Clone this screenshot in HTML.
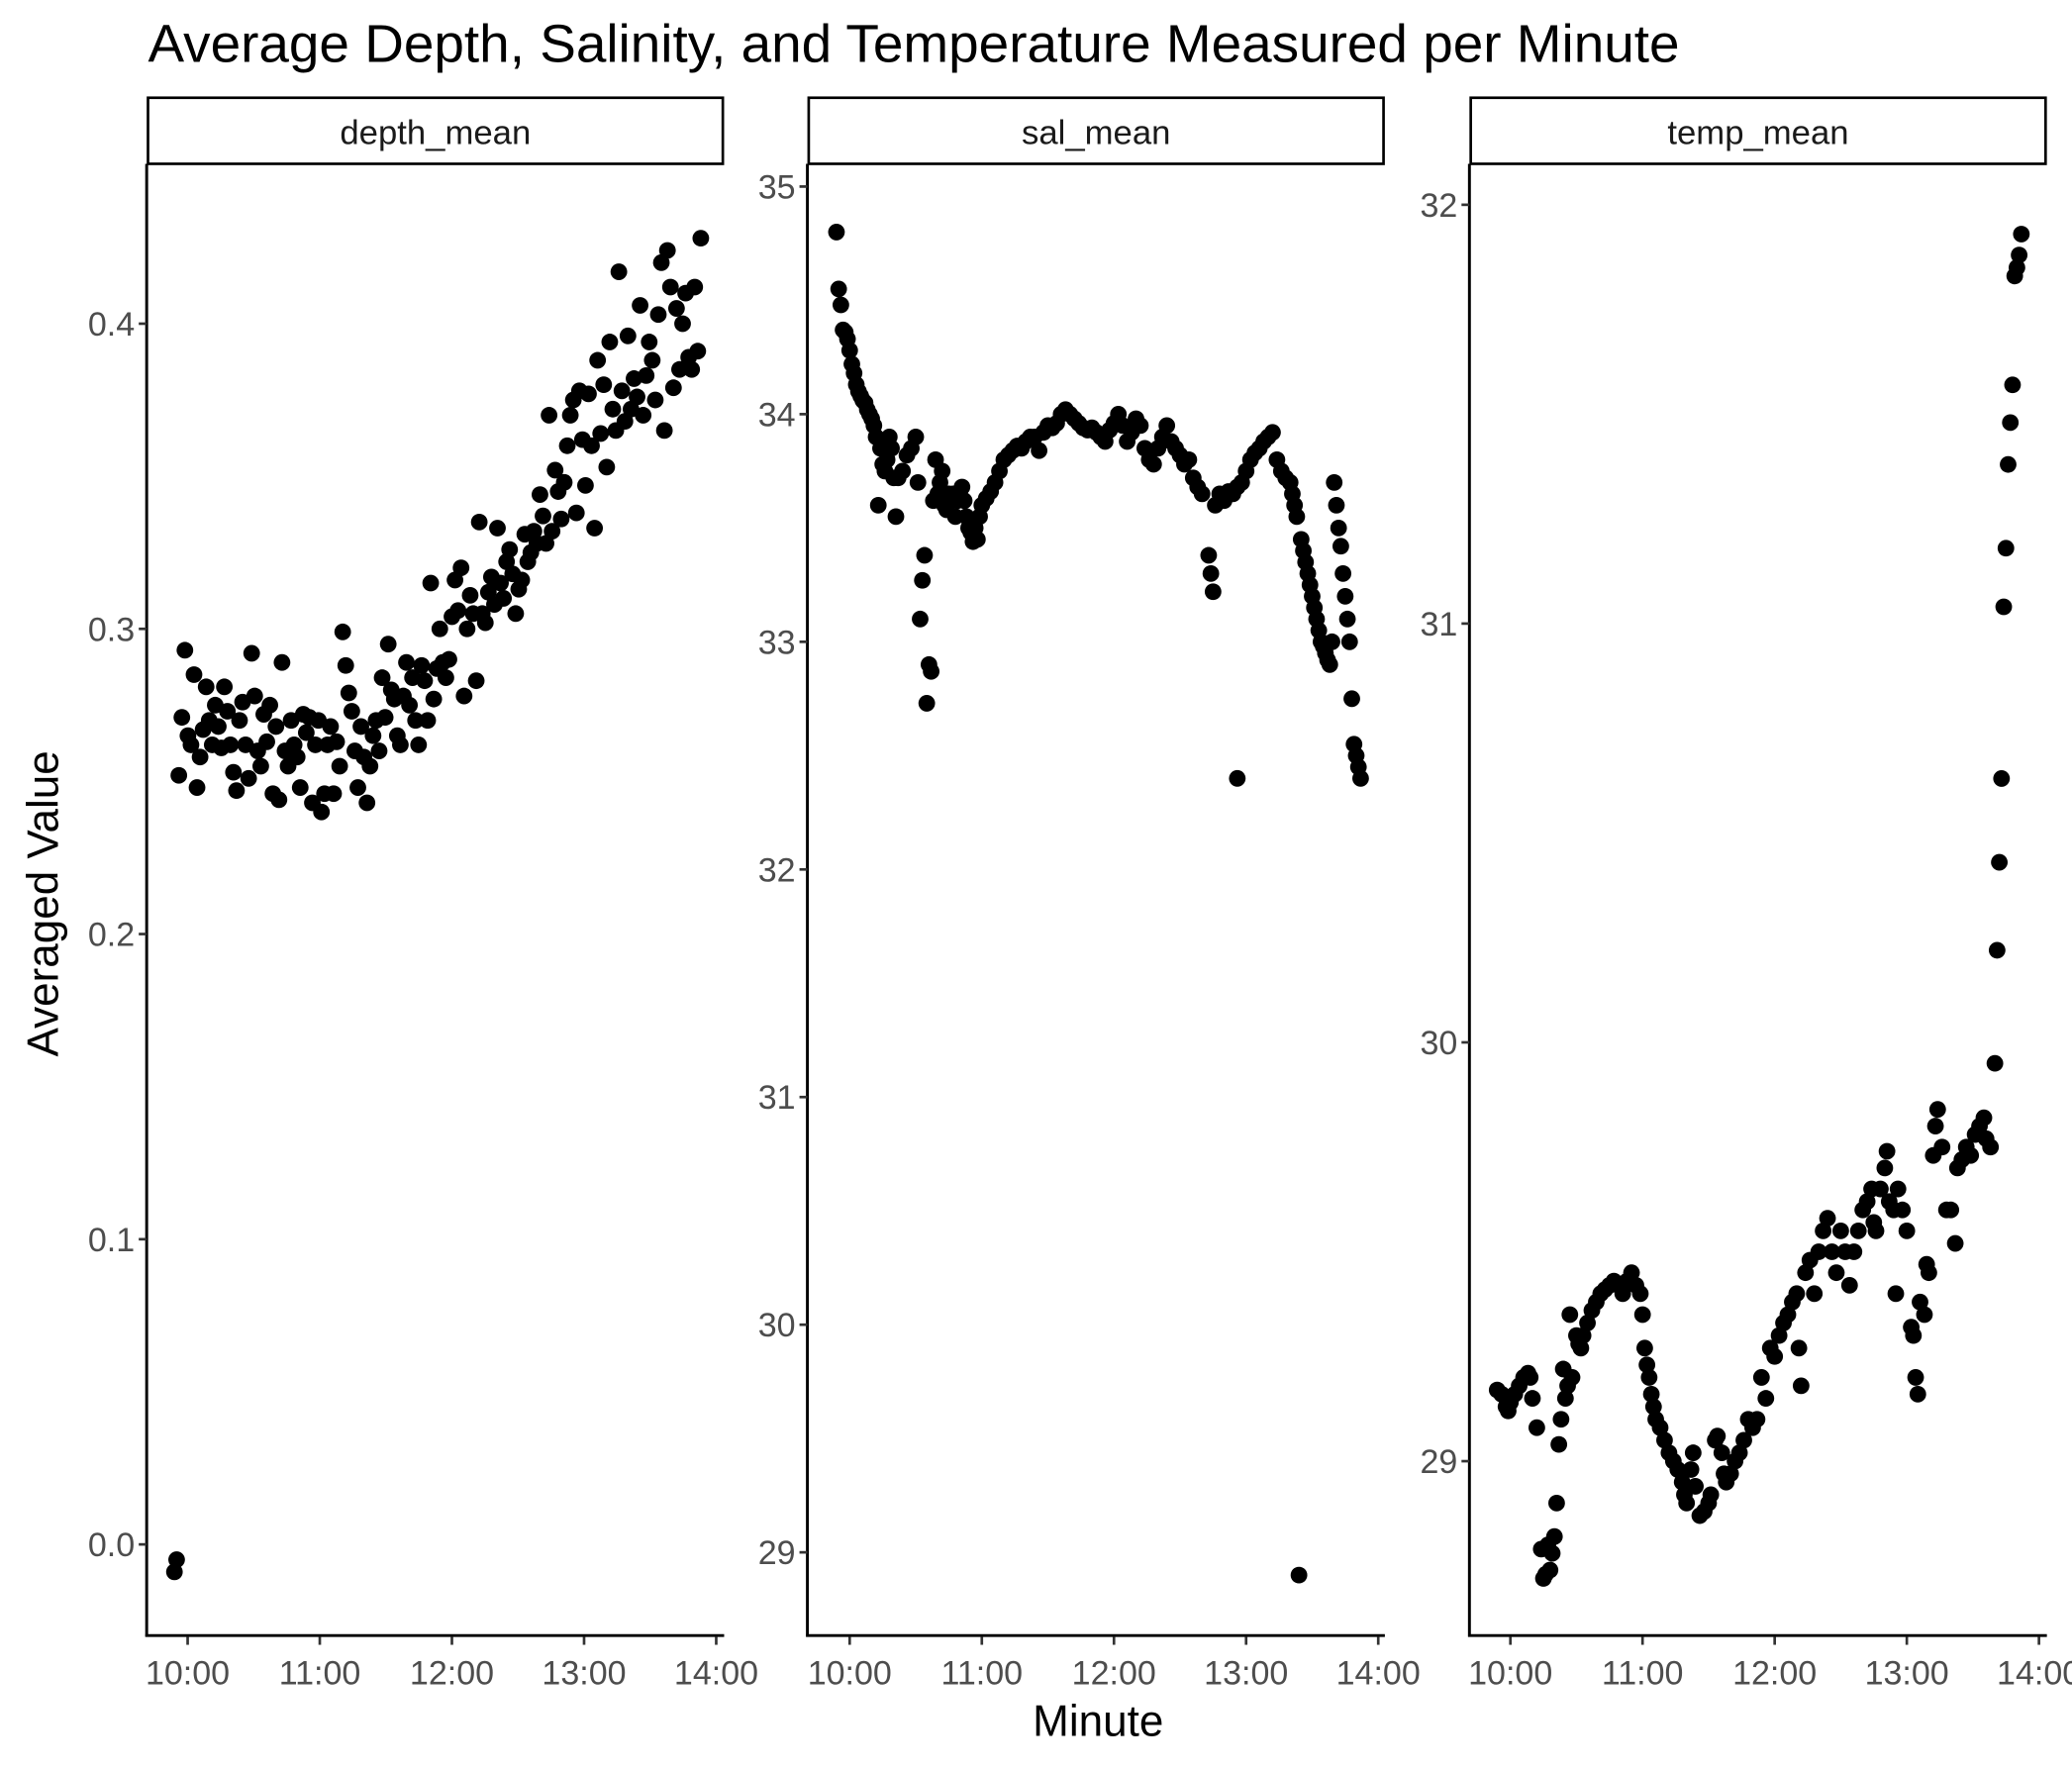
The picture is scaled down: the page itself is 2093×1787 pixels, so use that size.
<!DOCTYPE html>
<html><head><meta charset="utf-8"><style>
html,body{margin:0;padding:0;background:#fff;}
svg{display:block;font-family:"Liberation Sans",Arial,sans-serif;}
</style></head><body>
<svg id="chart" width="2093" height="1787" viewBox="0 0 1568 1339" preserveAspectRatio="none">
<rect x="0" y="0" width="1568" height="1339" fill="#fff"/>
<text x="112" y="47" font-size="40.5" fill="#000" textLength="1159" lengthAdjust="spacingAndGlyphs">Average Depth, Salinity, and Temperature Measured per Minute</text>
<text x="0" y="0" font-size="33" fill="#000" text-anchor="middle" transform="translate(44,684) rotate(-90)">Averaged Value</text>
<text x="831" y="1314" font-size="33" fill="#000" text-anchor="middle">Minute</text>
<g id="panels"></g>
</svg>
<script>
const xTickLabels = ["10:00","11:00","12:00","13:00","14:00"];
const xTickMinutes = [0,60,120,180,240];

// depth_mean: outliers + evenly spaced minute samples
const depthOutlierMinutes = [-6,-5];
const depthOutlierValues = [-0.009,-0.005];
const depthStartMinute = -4, depthEndMinute = 233;
const depthValues = [0.252,0.271,0.293,0.265,0.262,0.285,0.248,0.258,0.267,0.281,0.270,0.262,0.275,0.268,0.261,0.281,0.273,0.262,0.253,0.247,0.270,0.276,0.262,0.251,0.292,0.278,0.260,0.255,0.272,0.263,0.275,0.246,0.268,0.244,0.289,0.260,0.255,0.270,0.262,0.258,0.248,0.272,0.266,0.271,0.243,0.262,0.270,0.240,0.246,0.262,0.268,0.246,0.263,0.255,0.299,0.288,0.279,0.273,0.260,0.248,0.268,0.258,0.243,0.255,0.265,0.270,0.260,0.284,0.271,0.295,0.280,0.277,0.265,0.262,0.278,0.289,0.275,0.284,0.270,0.262,0.288,0.283,0.270,0.315,0.277,0.287,0.300,0.289,0.284,0.290,0.304,0.316,0.306,0.320,0.278,0.300,0.311,0.305,0.283,0.335,0.305,0.302,0.312,0.317,0.308,0.333,0.315,0.310,0.322,0.326,0.318,0.305,0.313,0.316,0.331,0.322,0.325,0.332,0.328,0.344,0.337,0.328,0.370,0.332,0.352,0.345,0.336,0.348,0.360,0.370,0.375,0.338,0.378,0.362,0.347,0.377,0.360,0.333,0.388,0.364,0.380,0.353,0.394,0.372,0.365,0.417,0.378,0.368,0.396,0.372,0.382,0.376,0.406,0.370,0.383,0.394,0.388,0.375,0.403,0.420,0.365,0.424,0.412,0.379,0.405,0.385,0.400,0.410,0.389,0.385,0.412,0.391,0.428];
const depthTicks = [0.0,0.1,0.2,0.3,0.4];
const depthTickLabels = ["0.0","0.1","0.2","0.3","0.4"];

const salMinutes = [-6,-5,-4,-3,-2,-1,0,1,2,3,4,5,6,7,8,9,10,11,12,13,14,15,16,17,18,19,20,21,22,
24,26,28,30,
31,32,33,34,35,36,37,38,39,40,41,42,43,44,45,46,47,48,49,50,51,52,53,54,55,56,57,58,59,
60,62,64,66,68,70,72,74,76,78,80,82,84,86,88,90,92,94,96,98,100,102,104,106,108,110,112,114,116,118,120,122,124,126,128,130,132,134,136,138,140,142,144,146,148,150,152,154,156,158,160,
163,164,165,
166,168,170,172,174,176,178,180,182,184,186,188,190,192,194,196,198,200,
176,
201,202,203,204,205,206,207,208,209,210,211,212,213,214,215,216,217,218,219,220,221,222,223,224,225,226,227,228,229,230,231,232];
const salValues = [34.8,34.55,34.48,34.37,34.36,34.33,34.28,34.22,34.18,34.13,34.1,34.08,34.06,34.05,34.02,34.0,33.98,33.95,33.9,33.6,33.85,33.78,33.75,33.8,33.9,33.85,33.72,33.55,33.72,
33.75,33.82,33.85,33.9,
33.7,33.1,33.27,33.38,32.73,32.9,32.87,33.62,33.8,33.65,33.7,33.75,33.6,33.58,33.65,33.62,33.65,33.55,33.62,33.66,33.68,33.62,33.55,33.5,33.48,33.44,33.5,33.45,33.55,
33.6,33.63,33.66,33.7,33.75,33.8,33.82,33.84,33.86,33.85,33.88,33.9,33.9,33.84,33.92,33.95,33.94,33.96,34.0,34.02,34.0,33.98,33.96,33.94,33.93,33.94,33.92,33.9,33.88,33.93,33.96,34.0,33.95,33.88,33.92,33.98,33.95,33.85,33.8,33.78,33.85,33.9,33.95,33.88,33.85,33.82,33.78,33.8,33.72,33.68,33.65,
33.38,33.3,33.22,
33.6,33.65,33.62,33.66,33.65,33.68,33.7,33.75,33.8,33.83,33.85,33.88,33.9,33.92,33.8,33.75,33.72,33.7,
32.4,
33.65,33.6,33.55,28.9,33.45,33.4,33.35,33.3,33.25,33.2,33.15,33.1,33.05,33.0,32.98,32.95,32.92,32.9,33.0,33.7,33.6,33.5,33.42,33.3,33.2,33.1,33.0,32.75,32.55,32.5,32.45,32.4];
const salTicks = [29,30,31,32,33,34,35];
const salTickLabels = ["29","30","31","32","33","34","35"];

const tempMinutes = [-6,-4,-2,-1,0,2,4,6,8,9,10,12,14,15,16,17,18,19,20,21,22,23,24,25,26,27,28,30,31,32,33,35,37,39,41,43,45,47,49,51,53,55,57,59,60,61,62,63,64,65,66,68,70,72,74,76,78,79,80,82,83,84,86,88,90,91,93,94,96,97,98,100,102,104,106,108,110,112,114,116,118,120,122,124,126,128,130,131,132,134,136,138,140,142,144,146,148,150,152,154,156,158,160,162,164,165,166,168,170,171,172,174,175,176,178,180,182,183,184,185,186,188,189,190,192,193,194,196,198,200,202,203,205,207,209,211,213,215,216,218,220,221,222,223,224,225,226,227,228,229,230,231,232];
const tempValues = [29.17,29.16,29.13,29.12,29.14,29.16,29.18,29.2,29.21,29.2,29.15,29.08,28.79,28.72,28.73,28.8,28.74,28.78,28.82,28.9,29.04,29.1,29.22,29.15,29.18,29.35,29.2,29.3,29.28,29.27,29.3,29.33,29.36,29.38,29.4,29.41,29.42,29.43,29.42,29.4,29.43,29.45,29.42,29.4,29.35,29.27,29.23,29.2,29.16,29.13,29.1,29.08,29.05,29.02,29.0,28.98,28.95,28.92,28.9,28.98,29.02,28.94,28.87,28.88,28.9,28.92,29.05,29.06,29.02,28.97,28.95,28.97,29.0,29.02,29.05,29.1,29.08,29.1,29.2,29.15,29.27,29.25,29.3,29.33,29.35,29.38,29.4,29.27,29.18,29.45,29.48,29.4,29.5,29.55,29.58,29.5,29.45,29.55,29.5,29.42,29.5,29.55,29.6,29.62,29.65,29.57,29.55,29.65,29.7,29.74,29.62,29.6,29.4,29.65,29.6,29.55,29.32,29.3,29.2,29.16,29.38,29.35,29.47,29.45,29.73,29.8,29.84,29.75,29.6,29.6,29.52,29.7,29.72,29.75,29.73,29.78,29.8,29.82,29.77,29.75,29.95,30.22,30.43,30.63,31.04,31.18,31.38,31.48,31.57,31.83,31.85,31.88,31.93];
const tempTicks = [29,30,31,32];
const tempTickLabels = ["29","30","31","32"];

const NS = "http://www.w3.org/2000/svg";
const root = document.getElementById("panels");
function mk(tag, attrs, parent){const e=document.createElementNS(NS,tag);for(const k in attrs)e.setAttribute(k,attrs[k]);parent.appendChild(e);return e;}

function panel(key, left, right, x10, x14, yScale, ticks, tickLabels, minutes, values){
  const g = mk("g",{},root);
  
  
  const strip = mk("rect",{x:left+1,y:74,width:right-left-2,height:50,fill:"#fff",stroke:"#000","stroke-width":2},g);
  
  
  const st = mk("text",{x:(left+right)/2,y:109,"font-size":26,"text-anchor":"middle",fill:"#1a1a1a"},g);
  st.textContent = key;
  
  
  const xs = m => x10 + (m/240)*(x14-x10);
  const yl = mk("line",{x1:left,y1:124,x2:left,y2:1239,stroke:"#000","stroke-width":2.2},g);
  
  
  const xl = mk("line",{x1:left-1,y1:1238,x2:right,y2:1238,stroke:"#000","stroke-width":2.2},g);
  
  
  ticks.forEach((t,i)=>{
    const y = yScale(t);
    const tk = mk("line",{x1:left-6,y1:y,x2:left,y2:y,stroke:"#333","stroke-width":2},g);
    
    
    const lb = mk("text",{x:left-9,y:y+9,"font-size":25.5,"text-anchor":"end",fill:"#4d4d4d"},g);
    lb.textContent = tickLabels[i];
    
    
  });
  xTickMinutes.forEach((m,i)=>{
    const x = xs(m);
    const tk = mk("line",{x1:x,y1:1239,x2:x,y2:1245,stroke:"#333","stroke-width":2},g);
    
    
    const lb = mk("text",{x:x,y:1275,"font-size":25.5,"text-anchor":"middle",fill:"#4d4d4d"},g);
    lb.textContent = xTickLabels[i];
    
    
  });
  minutes.forEach((m,i)=>{
    const c = mk("circle",{cx:xs(m),cy:yScale(values[i]),r:6.3,fill:"#000"},g);
    
    
  });
}

const depthMinutes = depthOutlierMinutes.slice();
const depthAll = depthOutlierValues.slice();
depthValues.forEach((v,i)=>{depthMinutes.push(depthStartMinute + i*(depthEndMinute-depthStartMinute)/(depthValues.length-1));depthAll.push(v);});

panel("depth_mean",111,548,142,542,v=>1169 - v*2310,depthTicks,depthTickLabels,depthMinutes,depthAll);
panel("sal_mean",611,1048,643,1043,v=>1175 - (v-29)*172.3,salTicks,salTickLabels,salMinutes,salValues);
panel("temp_mean",1112,1549,1143,1543,v=>1106 - (v-29)*317,tempTicks,tempTickLabels,tempMinutes,tempValues);
</script>
</body></html>
